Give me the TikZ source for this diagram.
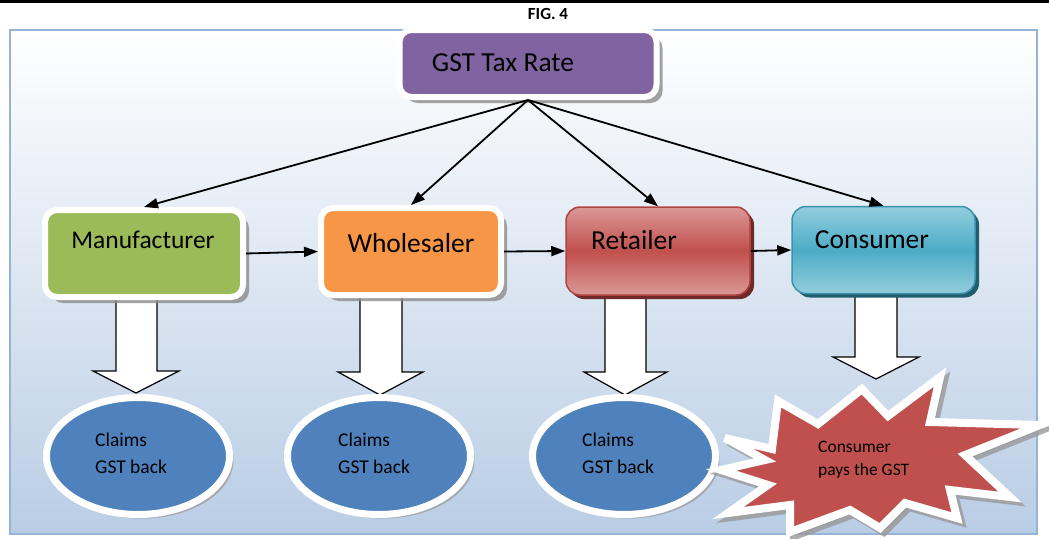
\documentclass[tikz,border=0pt]{standalone}
\usepackage{fontspec}
\setmainfont{Carlito}
\usetikzlibrary{arrows.meta,shadows,shapes.geometric}
\definecolor{gstpurple}{HTML}{8064A2}
\definecolor{mgreen}{HTML}{9BBB59}
\definecolor{worange}{HTML}{F79646}
\definecolor{retred}{HTML}{C0504D}
\definecolor{retlight}{HTML}{DB9896}
\definecolor{retborder}{HTML}{B0423F}
\definecolor{retshadow}{HTML}{6E2A28}
\definecolor{conteal}{HTML}{4BACC6}
\definecolor{conlight}{HTML}{93CDDD}
\definecolor{conborder}{HTML}{3A94AD}
\definecolor{conshadow}{HTML}{215E6E}
\definecolor{framecol}{HTML}{95B3D7}
\definecolor{bgblue}{HTML}{B9CDE5}
\definecolor{ellblue}{HTML}{4F81BD}
\definecolor{starred}{HTML}{C0504D}
\newcommand\mystarpath{(725,438) -- (772,449) -- (778,401) -- (818,424) -- (862,389) -- (888,416) -- (940,377) -- (930,422) -- (1040,425) -- (965,455) -- (1010,497) -- (950,490) -- (957,518) -- (905,503) -- (880,528) -- (850,510) -- (790,532) -- (790,505) -- (728,513) -- (768,485) -- (721,470) -- (765,460) -- cycle}
\begin{document}
\begin{tikzpicture}[x=1pt,y=-1pt,
  whitebox/.style={draw=white, line width=6pt, rounded corners=12pt, inner sep=0pt,
    drop shadow={shadow xshift=6pt, shadow yshift=-6pt, fill=black!45, opacity=0.8}},
  gradbox/.style={line width=1.5pt, rounded corners=14pt, inner sep=0pt},
  lbl/.style={font=\fontsize{27.5}{32}\selectfont, inner sep=0pt},
  small/.style={font=\fontsize{19.5}{27}\selectfont, align=left, anchor=west, inner sep=0pt},
  conn/.style={line width=1.8pt, -{Triangle[length=14pt,width=10pt]}},
  blockarrow/.style={fill=white, draw=black, line width=1.2pt, line join=miter},
  ell/.style={ellipse, draw=white, line width=7pt, fill=ellblue, minimum width=183pt, minimum height=117pt, inner sep=0pt,
    drop shadow={shadow xshift=4pt, shadow yshift=-4pt, fill=black!40, opacity=0.7}}]
\useasboundingbox (0,0) rectangle (1049,538);
\fill[white] (0,0) rectangle (1049,538);
\fill[black] (0,0) rectangle (1049,3);
\node[font=\bfseries\fontsize{17}{19}\selectfont, inner sep=0pt] (fig) at (548,14) {FIG. 4};
\shade[top color=white, bottom color=bgblue] (10,30) rectangle (1037,534);
\draw[framecol, line width=2pt] (10,30) rectangle (1037,534);

% block arrows
\draw[blockarrow] (116,290) -- (157,290) -- (157,371) -- (179,371) -- (136,393) -- (93,371) -- (116,371) -- cycle;
\draw[blockarrow] (360,290) -- (402,290) -- (402,372) -- (423,372) -- (380,395) -- (338,372) -- (360,372) -- cycle;
\draw[blockarrow] (605,290) -- (646,290) -- (646,372) -- (667,372) -- (625,395) -- (584,372) -- (605,372) -- cycle;
\draw[blockarrow] (855,290) -- (897,290) -- (897,357) -- (919,357) -- (876,379) -- (833,357) -- (855,357) -- cycle;

% top box
\node[whitebox, fill=gstpurple, minimum width=257pt, minimum height=67pt] (gst) at (528,63.5) {};
\node[lbl] (gsttxt) at (503,63) {GST Tax Rate};

% row boxes
\node[whitebox, fill=mgreen, minimum width=198pt, minimum height=87pt] (mfr) at (144,253.5) {};
\node[lbl, font=\fontsize{25.5}{30}\selectfont] (mfrtxt) at (143,240) {Manufacturer};
\node[whitebox, fill=worange, minimum width=180pt, minimum height=87pt] (whl) at (411,251.5) {};
\node[lbl] (whltxt) at (411,243) {Wholesaler};
\node[gradbox, draw=retborder, top color=retlight, bottom color=retlight, middle color=retred,
  minimum width=184pt, minimum height=88pt,
  drop shadow={shadow xshift=4pt, shadow yshift=-4pt, fill=retshadow, opacity=1}] (ret) at (658,251) {};
\node[lbl] (rettxt) at (634,240) {Retailer};
\node[gradbox, draw=conborder, top color=conlight, bottom color=conlight, middle color=conteal,
  minimum width=183pt, minimum height=87pt,
  drop shadow={shadow xshift=4pt, shadow yshift=-4pt, fill=conshadow, opacity=1}] (con) at (883.5,250) {};
\node[lbl] (contxt) at (872,240) {Consumer};

% connectors
\draw[conn] (gst.south) -- (mfr.north);
\draw[conn] (gst.south) -- (whl.north);
\draw[conn] (gst.south) -- (ret.north);
\draw[conn] (gst.south) -- (con.north);
\draw[conn] (mfr.east) -- (whl.west);
\draw[conn] (whl.east) -- (ret.west);
\draw[conn] (ret.east) -- (con.west);

% ellipses
\node[ell] (e1) at (138,456) {};
\node[small] (e1txt) at (95,453.5) {Claims\\GST back};
\node[ell] (e2) at (379,456) {};
\node[small] (e2txt) at (338,453.5) {Claims\\GST back};
\node[ell] (e3) at (624,456) {};
\node[small] (e3txt) at (582,453.5) {Claims\\GST back};

% star
\draw[black!40, fill=black!40, line width=8pt, line join=miter, miter limit=6, opacity=0.8, shift={(4,4)}] \mystarpath;
\draw[white, fill=starred, line width=8pt, line join=miter, miter limit=6] \mystarpath;
\node[small, font=\fontsize{17.5}{23}\selectfont] (startxt) at (818,459.5) {Consumer\\pays the GST};
\end{tikzpicture}
\end{document}
